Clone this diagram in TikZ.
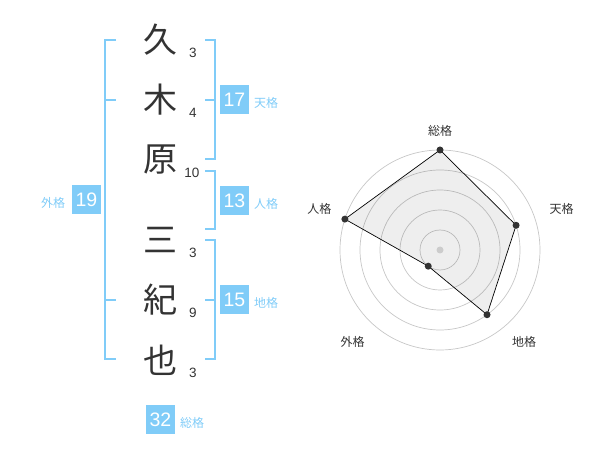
\documentclass[tikz,border=0pt]{standalone}
\usepackage{fontspec}
\setmainfont{Liberation Sans}
\newfontfamily\jpfont{Noto Sans CJK JP}
\definecolor{skyb}{RGB}{128,204,248}
\definecolor{ink}{RGB}{51,51,51}
\begin{document}
\begin{tikzpicture}[x=1pt,y=-1pt,
  kanji/.style={font=\jpfont\fontsize{34}{34}\selectfont, text=ink, inner sep=0pt},
  strokes/.style={font=\fontsize{13.5}{14}\selectfont, text=ink, inner sep=0pt},
  numbox/.style={fill=skyb, text=white, minimum size=29pt, inner sep=0pt, font=\fontsize{19.5}{20}\selectfont},
  kaku/.style={font=\jpfont\fontsize{12}{12}\selectfont, text=skyb, inner sep=0pt},
  brk/.style={draw=skyb, line width=2pt},
  ring/.style={draw=black!22, line width=0.7pt},
  axlab/.style={font=\jpfont\fontsize{12}{12}\selectfont, text=ink, inner sep=0pt},
  vdot/.style={circle, fill=ink, inner sep=0pt, minimum size=7pt},
]
\useasboundingbox (0,0) rectangle (600,470);

% name characters
\node[kanji] (k1) at (160,40) {久};
\node[kanji] (k2) at (160,100) {木};
\node[kanji] (k3) at (160,160) {原};
\node[kanji] (k4) at (160,240) {三};
\node[kanji] (k5) at (160,300) {紀};
\node[kanji] (k6) at (160,360) {也};

% stroke counts
\node[strokes] (s1) at (193,53) {3};
\node[strokes] (s2) at (193,113) {4};
\node[strokes] (s3) at (192,173) {10};
\node[strokes] (s4) at (193,253) {3};
\node[strokes] (s5) at (193,313) {9};
\node[strokes] (s6) at (193,373) {3};

% brackets
\draw[brk] (116,40) -- (105,40) -- (105,359) -- (116,359);
\draw[brk] (105,100) -- (116,100);
\draw[brk] (105,300) -- (116,300);
\draw[brk] (205,40) -- (215,40) -- (215,159) -- (205,159);
\draw[brk] (205,100) -- (215,100);
\draw[brk] (205,171) -- (215,171) -- (215,229) -- (205,229);
\draw[brk] (205,240) -- (215,240) -- (215,359) -- (205,359);
\draw[brk] (205,300) -- (215,300);

% result boxes
\node[numbox] (b17) at (234.5,100) {17};
\node[kaku] (l17) at (266,103) {天格};
\node[numbox] (b13) at (234.5,200.5) {13};
\node[kaku] (l13) at (266,203.5) {人格};
\node[numbox] (b19) at (86.5,200) {19};
\node[kaku] (l19) at (53,203) {外格};
\node[numbox] (b15) at (234.5,300) {15};
\node[kaku] (l15) at (266,303) {地格};
\node[numbox] (b32) at (160.5,419.5) {32};
\node[kaku] (l32) at (192,422.5) {総格};

% radar chart
\begin{scope}[shift={(440,250)}, yscale=-1]
  \foreach \r in {20,40,60,80,100} \draw[ring] (0,0) circle (\r);
  \coordinate (c1) at (90:100);
  \coordinate (c2) at (18:80);
  \coordinate (c3) at (-54:80);
  \coordinate (c4) at (-126:20);
  \coordinate (c5) at (162:100);
  \fill[black, fill opacity=0.065] (c1) -- (c2) -- (c3) -- (c4) -- (c5) -- cycle;
  \draw[black, line width=0.7pt] (c1) -- (c2) -- (c3) -- (c4) -- (c5) -- cycle;
  \fill[black!20] (0,0) circle (3.5);
  \node[vdot] (d1) at (c1) {};
  \node[vdot] (d2) at (c2) {};
  \node[vdot] (d3) at (c3) {};
  \node[vdot] (d4) at (c4) {};
  \node[vdot] (d5) at (c5) {};
\end{scope}
\node[axlab] (a1) at (440,130.7) {総格};
\node[axlab] (a2) at (561.7,209) {天格};
\node[axlab] (a3) at (524,341.7) {地格};
\node[axlab] (a4) at (352.7,341.7) {外格};
\node[axlab] (a5) at (319.3,209) {人格};
\end{tikzpicture}
\end{document}
